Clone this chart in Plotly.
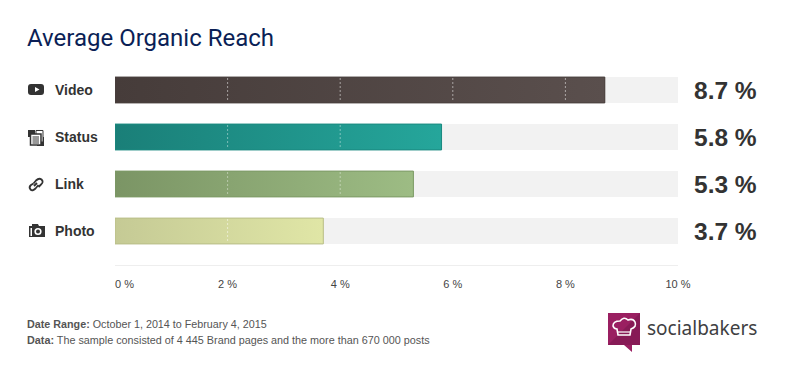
import plotly.graph_objects as go

categories = ["Video", "Status", "Link", "Photo"]
values = [8.7, 5.8, 5.3, 3.7]
value_labels = ["8.7 %", "5.8 %", "5.3 %", "3.7 %"]
axis_max = 10
tick_values = [2, 4, 6, 8, 10]
tick_labels = ["2 %", "4 %", "6 %", "8 %", "10 %"]
grid_values = [2, 4, 6, 8]
colors_start = ["#463c3a", "#1a7f78", "#7b9565", "#c5ca95"]
colors_end = ["#5a4f4d", "#25a69b", "#9dbc84", "#e0e6a6"]
colors_line = ["#4a403e", "#1b8a80", "#7d9a66", "#b9be88"]
grid_colors = ["rgba(255,255,255,0.5)", "rgba(255,255,255,0.42)", "rgba(255,255,255,0.4)", "rgba(255,255,255,0.5)"]

# The page body adds an 8px margin, so the figure is 804x365 and coordinates are offset by 8.
OFF = 8
W, H = 812 - OFF, 373 - OFF
L, R, T, B = 115, 678, 66, 265
BAR = 0.55
TEXT_SHIFT = -2
rows = list(range(len(categories)))


def px(x):
    return (x - L) / (R - L)


def py(y):
    return (B - y) / (B - T)


def path(cmds):
    out = []
    for c in cmds:
        if isinstance(c, str):
            out.append(c)
        else:
            out.append(f"{px(c[0]):.5f},{py(c[1]):.5f}")
    return " ".join(out)


def poly(points):
    return "M " + " L ".join(f"{px(a):.5f},{py(b):.5f}" for a, b in points) + " Z"


fig = go.Figure()
fig.add_trace(go.Bar(y=rows, x=[axis_max] * 4, orientation="h", width=BAR,
                     marker=dict(color="#f2f2f2", line=dict(width=0)), hoverinfo="skip"))
fig.add_trace(go.Bar(y=rows, x=values, orientation="h", width=BAR,
                     marker=dict(color=colors_end, line=dict(width=0)), hoverinfo="skip"))

for i, v in enumerate(values):
    h = BAR / 2
    fig.add_trace(go.Scatter(
        x=[0, v, v, 0, 0], y=[i - h, i - h, i + h, i + h, i - h], mode="lines",
        fill="toself", line=dict(color=colors_line[i], width=1),
        fillgradient=dict(type="horizontal",
                          colorscale=[[0, colors_start[i]], [1, colors_end[i]]]),
        hoverinfo="skip"))
    for g in grid_values:
        if g < v:
            fig.add_trace(go.Scatter(
                x=[g, g], y=[i - h + 0.02, i + h - 0.02], mode="lines",
                line=dict(color=grid_colors[i], width=1, dash="2px 2px"), hoverinfo="skip"))

annotations = []
for i, c in enumerate(categories):
    annotations.append(dict(x=px(55), xshift=TEXT_SHIFT, y=i, xref="paper", yref="y", text=f"<b>{c}</b>",
                            showarrow=False, xanchor="left", yanchor="middle",
                            font=dict(family="Liberation Sans", size=14, color="#333333")))
    annotations.append(dict(x=px(694), xshift=TEXT_SHIFT, y=i, xref="paper", yref="y",
                            text=f"<b>{value_labels[i]}</b>",
                            showarrow=False, xanchor="left", yanchor="middle",
                            font=dict(family="Liberation Sans", size=24.5, color="#333333")))

annotations += [
    dict(x=px(27), xshift=TEXT_SHIFT, y=py(38), xref="paper", yref="paper", text="Average Organic Reach",
         showarrow=False, xanchor="left", yanchor="middle", font=dict(family="Roboto", size=24, color="#0b1f56")),
    dict(x=0, xshift=TEXT_SHIFT, y=py(284), xref="x", yref="paper", text="0 %", showarrow=False, xanchor="left",
         yanchor="middle", font=dict(family="Liberation Sans", size=11, color="#444444")),
    dict(x=px(27), xshift=TEXT_SHIFT, y=py(324), xref="paper", yref="paper",
         text="<b>Date Range:</b> October 1, 2014 to February 4, 2015", showarrow=False,
         xanchor="left", yanchor="middle", font=dict(family="Liberation Sans", size=10.75, color="#555555")),
    dict(x=px(27), xshift=TEXT_SHIFT, y=py(340), xref="paper", yref="paper",
         text="<b>Data:</b> The sample consisted of 4 445 Brand pages and the more than 670 000 posts",
         showarrow=False, xanchor="left", yanchor="middle",
         font=dict(family="Liberation Sans", size=10.8, color="#555555")),
    dict(x=px(647), xshift=TEXT_SHIFT, y=py(328), xref="paper", yref="paper", text="socialbakers", showarrow=False,
         xanchor="left", yanchor="middle", font=dict(family="Noto Sans", size=19, color="#404042")),
]

ICON = "#333333"
shapes = []


def shape(d, fill=ICON, line=None, w=0):
    s = dict(type="path", xref="paper", yref="paper", path=d, fillcolor=fill, layer="above",
             line=dict(width=w, color=line or "rgba(0,0,0,0)"))
    shapes.append(s)


def rect(x0, y0, x1, y1, fill=ICON, line=None, w=0):
    shape(poly([(x0, y0), (x1, y0), (x1, y1), (x0, y1)]), fill, line, w)


def circle(cx, cy, r, fill=ICON, line=None, w=0):
    shapes.append(dict(type="circle", xref="paper", yref="paper", x0=px(cx - r), x1=px(cx + r),
                       y0=py(cy + r), y1=py(cy - r), fillcolor=fill, layer="above",
                       line=dict(width=w, color=line or "rgba(0,0,0,0)")))


# video icon
shape(path(["M", (31, 84), "L", (41, 84), "Q", (44, 84), (44, 87), "L", (44, 92), "Q", (44, 95), (41, 95),
            "L", (31, 95), "Q", (28, 95), (28, 92), "L", (28, 87), "Q", (28, 84), (31, 84), "Z"]))
shape(poly([(35, 87), (39.5, 89.5), (35, 92)]), "#ffffff")
# status icon
rect(28, 130, 35, 137)
rect(37, 137, 44, 146)
rect(36, 130.5, 43, 142, "#ffffff", ICON, 1)
rect(30.5, 134, 41, 145, "#ffffff", ICON, 1.5)
for yy in (136.5, 138.5, 140.5, 142.5):
    rect(32.5, yy, 39, yy + 1)
# link icon
shape(path(["M", (33, 189), "L", (40, 181)]), "rgba(0,0,0,0)", "#ffffff", 3)
shapes.append(dict(type="path", xref="paper", yref="paper", layer="above", fillcolor="rgba(0,0,0,0)",
                   line=dict(width=1.8, color=ICON),
                   path=path(["M", (33.5, 183.5), "L", (36, 180.5), "Q", (39, 177.5), (41.5, 179.5), "Q", (44, 182), (41, 184.5),
                              "L", (38.5, 187)])))
shapes.append(dict(type="path", xref="paper", yref="paper", layer="above", fillcolor="rgba(0,0,0,0)",
                   line=dict(width=1.8, color=ICON),
                   path=path(["M", (37, 183), "L", (34, 186), "M", (38.5, 185), "L", (35.5, 188.5), "Q", (32.5, 191.5), (30.5, 189.5),
                              "Q", (28.5, 187), (31, 185), "L", (33.5, 183.5)])))
# photo icon
shape(poly([(29, 226), (32, 226), (32, 224), (38, 224), (39, 226), (45, 226), (45, 237), (29, 237)]))
circle(38, 231.5, 3.6, "#ffffff")
circle(38, 231.5, 2, ICON)
rect(30.5, 228, 32, 236, "#ffffff")
# logo
shape(poly([(608, 313), (640, 313), (640, 345), (632, 345), (632, 352), (624, 345), (608, 345)]), "#9a1f61")
shape(poly([(608, 345), (640, 313), (640, 345)]), "rgba(70,10,50,0.22)")
shape(path(["M", (618, 335), "L", (630, 335), "L", (631, 329), "Q", (637, 327), (635, 322), "Q", (633, 318), (628, 320),
            "Q", (624, 316), (620, 321), "Q", (613, 321), (613, 326), "Q", (614, 329), (617, 329), "Z"]),
      "rgba(0,0,0,0)", "#ffffff", 1.6)
shape(path(["M", (618, 332), "L", (630, 332)]), "rgba(0,0,0,0)", "#ffffff", 1.2)

fig.update_layout(
    width=W, height=H, autosize=False, barmode="overlay", showlegend=False,
    paper_bgcolor="#ffffff", plot_bgcolor="#ffffff",
    margin=dict(l=L - OFF, r=812 - R, t=T - OFF, b=373 - B, pad=0),
    annotations=annotations, shapes=shapes,
    xaxis=dict(range=[0, axis_max], tickmode="array", tickvals=tick_values, ticktext=tick_labels,
               showgrid=False, zeroline=False, showline=True, linecolor="#eeeeee", linewidth=1,
               ticks="outside", ticklen=9, tickcolor="rgba(0,0,0,0)", fixedrange=True,
               tickfont=dict(family="Liberation Sans", size=11, color="#444444")),
    yaxis=dict(range=[(B - 90) / 47, (T - 90) / 47], showticklabels=False, showgrid=False, zeroline=False,
               showline=False, ticks="", fixedrange=True),
)
fig.write_html("out.html")
